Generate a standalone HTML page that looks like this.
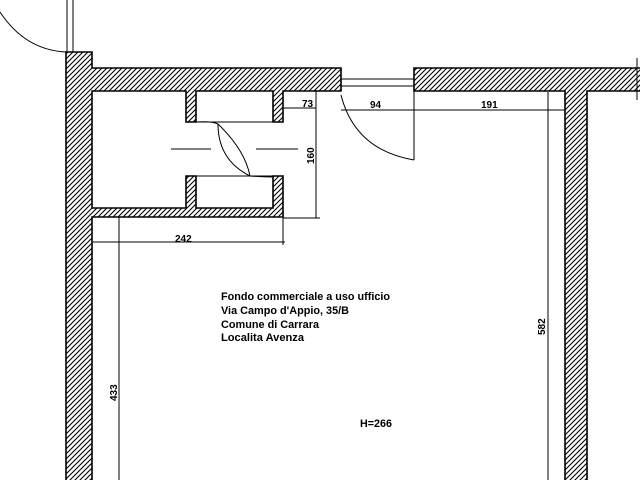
<!DOCTYPE html>
<html><head><meta charset="utf-8"><style>
html,body{margin:0;padding:0;background:#fff;}
svg{display:block;}
text{font-family:"Liberation Sans",sans-serif;fill:#000;}
</style></head><body>
<svg width="640" height="480" viewBox="0 0 640 480" xmlns="http://www.w3.org/2000/svg">
<defs>
<pattern id="h" width="5" height="5" patternUnits="userSpaceOnUse">
<path d="M-1,1 L1,-1 M0,5 L5,0 M4,6 L6,4" stroke="#000" stroke-width="1.1"/>
</pattern>
</defs>
<g fill="url(#h)" stroke="#000" stroke-width="1.6">
<path d="M66,52 L92,52 L92,68 L341,68 L341,91 L283,91 L283,122 L273,122 L273,91 L196,91 L196,122 L186,122 L186,91 L92,91 L92,208 L186,208 L186,176 L196,176 L196,208 L273,208 L273,176 L283,176 L283,217 L92,217 L92,482 L66,482 Z"/>
<path d="M414,68 L642,68 L642,91 L587,91 L587,482 L565,482 L565,91 L414,91 Z"/>
</g>
<g fill="none" stroke="#000" stroke-width="1">
<line x1="67" y1="0" x2="67" y2="52"/><line x1="73" y1="0" x2="73" y2="52"/>
<path d="M0,12 Q25,50 66,52"/>
<line x1="341" y1="79" x2="414" y2="79"/><line x1="341" y1="86" x2="414" y2="86"/>
<line x1="196" y1="122" x2="273" y2="122"/><line x1="196" y1="176" x2="273" y2="176"/>
<path d="M196,122 Q212,121 218,124 Q245,150 250,176"/>
<path d="M218,124 Q218,160 250,176"/>
<path d="M250,176 Q262,177 273,177"/>
<line x1="171" y1="149" x2="211" y2="149"/><line x1="256" y1="149" x2="298" y2="149"/>
<line x1="414" y1="91" x2="414" y2="160"/>
<path d="M341,95 Q355,150 414,160"/>
<line x1="283" y1="108" x2="316" y2="108"/>
<line x1="316" y1="90" x2="316" y2="218"/>
<line x1="283" y1="218" x2="320" y2="218"/>
<line x1="341" y1="110" x2="565" y2="110"/>
<line x1="548" y1="92" x2="548" y2="480"/>
<line x1="92" y1="242" x2="285" y2="242"/>
<line x1="283" y1="217" x2="283" y2="245"/>
<line x1="119" y1="217" x2="119" y2="480"/>
<line x1="637" y1="58" x2="637" y2="100"/>
</g>
<g font-size="10" font-weight="bold">
<text x="302" y="107">73</text>
<text x="370" y="108">94</text>
<text x="481" y="108">191</text>
<text x="175" y="242">242</text>
<text transform="translate(314,164) rotate(-90)">160</text>
<text transform="translate(545,335) rotate(-90)">582</text>
<text transform="translate(117,401) rotate(-90)">433</text>
</g>
<g font-size="11" font-weight="bold">
<text x="221" y="300" textLength="169" lengthAdjust="spacingAndGlyphs">Fondo commerciale a uso ufficio</text>
<text x="221" y="314" textLength="128" lengthAdjust="spacingAndGlyphs">Via Campo d'Appio, 35/B</text>
<text x="221" y="328" textLength="98" lengthAdjust="spacingAndGlyphs">Comune di Carrara</text>
<text x="221" y="341" textLength="83" lengthAdjust="spacingAndGlyphs">Localita Avenza</text>
<text x="360" y="427" textLength="32" lengthAdjust="spacingAndGlyphs">H=266</text>
</g>
</svg>
</body></html>
